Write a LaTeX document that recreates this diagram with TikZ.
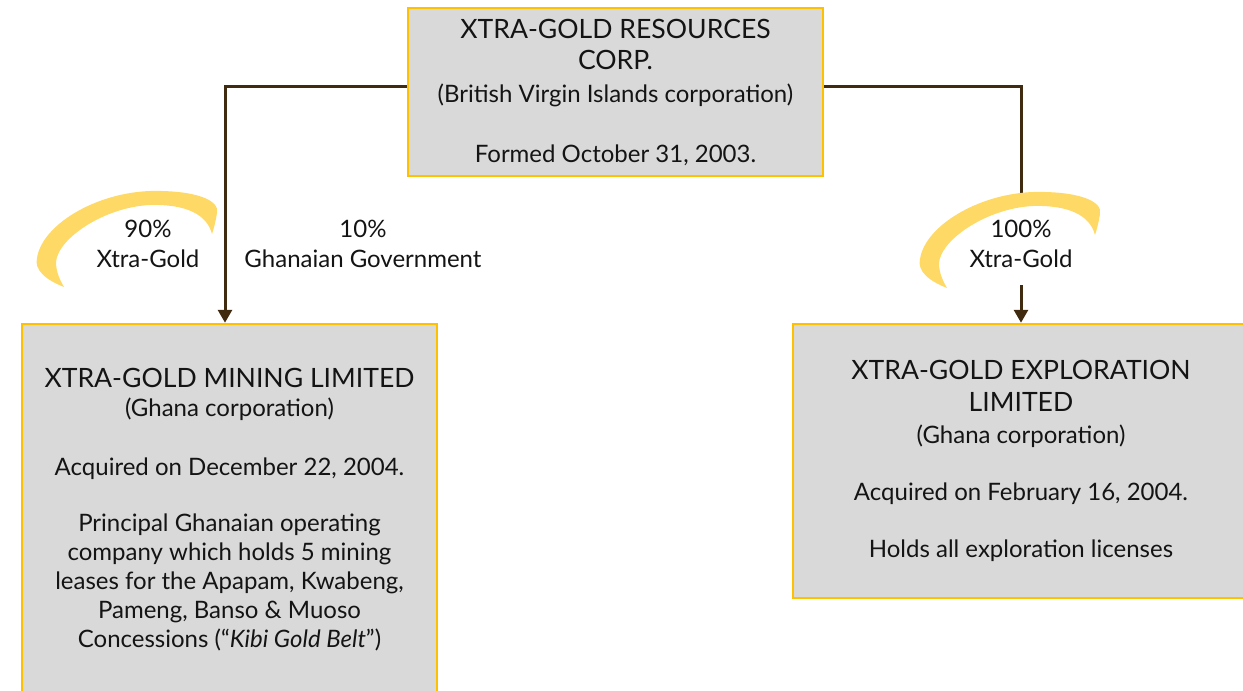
\documentclass[tikz,border=0pt]{standalone}
\usepackage{fontspec}
\setmainfont{Lato}
\usetikzlibrary{arrows.meta}
\definecolor{gold}{RGB}{255,192,0}
\definecolor{boxgray}{RGB}{217,217,217}
\definecolor{swooshcol}{RGB}{255,217,102}
\definecolor{brownline}{RGB}{64,42,16}
\definecolor{txt}{RGB}{20,20,20}
\newcommand{\ttl}{\fontsize{26.6}{29}\selectfont}
\begin{document}
\begin{tikzpicture}[x=1pt,y=-1pt,
  entity/.style={draw=gold, line width=2.5pt, fill=boxgray, align=center, text=txt, inner sep=0pt, font=\fontsize{24}{29}\selectfont},
  link/.style={draw=brownline, line width=3pt, -{Triangle[length=13pt,width=14pt]}},
  pct/.style={align=center, text=txt, font=\fontsize{24}{30}\selectfont, inner sep=0pt},
  swooshfill/.style={fill=swooshcol, draw=none}]
\useasboundingbox (0,0) rectangle (1243,691);

\node[entity, minimum width=415, minimum height=168] (top) at (615.5,92)
  {{\ttl XTRA-GOLD RESOURCES}\\[2pt]{\ttl CORP.}\\[4pt](British Virgin Islands corporation)\\[31pt]Formed October 31, 2003.};

\node[entity, minimum width=415, minimum height=372] (mining) at (229.5,510)
  {{\ttl XTRA-GOLD MINING LIMITED}\\(Ghana corporation)\\[30pt]Acquired on December 22, 2004.\\[27pt]Principal Ghanaian operating\\company which holds 5 mining\\leases for the Apapam, Kwabeng,\\Pameng, Banso \& Muoso\\Concessions (“\textit{Kibi Gold Belt}”)};

\node[entity, minimum width=456, minimum height=274] (expl) at (1021,461)
  {{\ttl XTRA-GOLD EXPLORATION}\\[3pt]{\ttl LIMITED}\\[3pt](Ghana corporation)\\[28pt]Acquired on February 16, 2004.\\[28pt]Holds all exploration licenses};

\draw[link] ([yshift=6pt]top.west) -| ([xshift=-4.5pt]mining.north);
\draw[link] ([yshift=6pt]top.east) -| (expl.north);

\node[pct] (lbl90) at (148,244) {90\%\\Xtra-Gold};
\node[pct] (lbl10) at (363,244) {10\%\\Ghanaian Government};
\node[pct, fill=white, minimum width=112, minimum height=82] (lbl100) at (1021,244) {100\%\\Xtra-Gold};

\foreach \dx/\dy in {0/0, 883/1}{
\begin{scope}[shift={(\dx,\dy)}]
\fill[swooshfill] (64,287) .. controls (46,280) and (34,270) .. (37,258)
  .. controls (42,225) and (95,193) .. (150,191)
  .. controls (195,190) and (220,200) .. (217,213)
  .. controls (216,220) and (214,228) .. (212,234)
  .. controls (207,214) and (185,204) .. (150,205)
  .. controls (105,207) and (58,238) .. (56,262)
  .. controls (56,272) and (60,280) .. (64,287) -- cycle;
\end{scope}}
\end{tikzpicture}
\end{document}
